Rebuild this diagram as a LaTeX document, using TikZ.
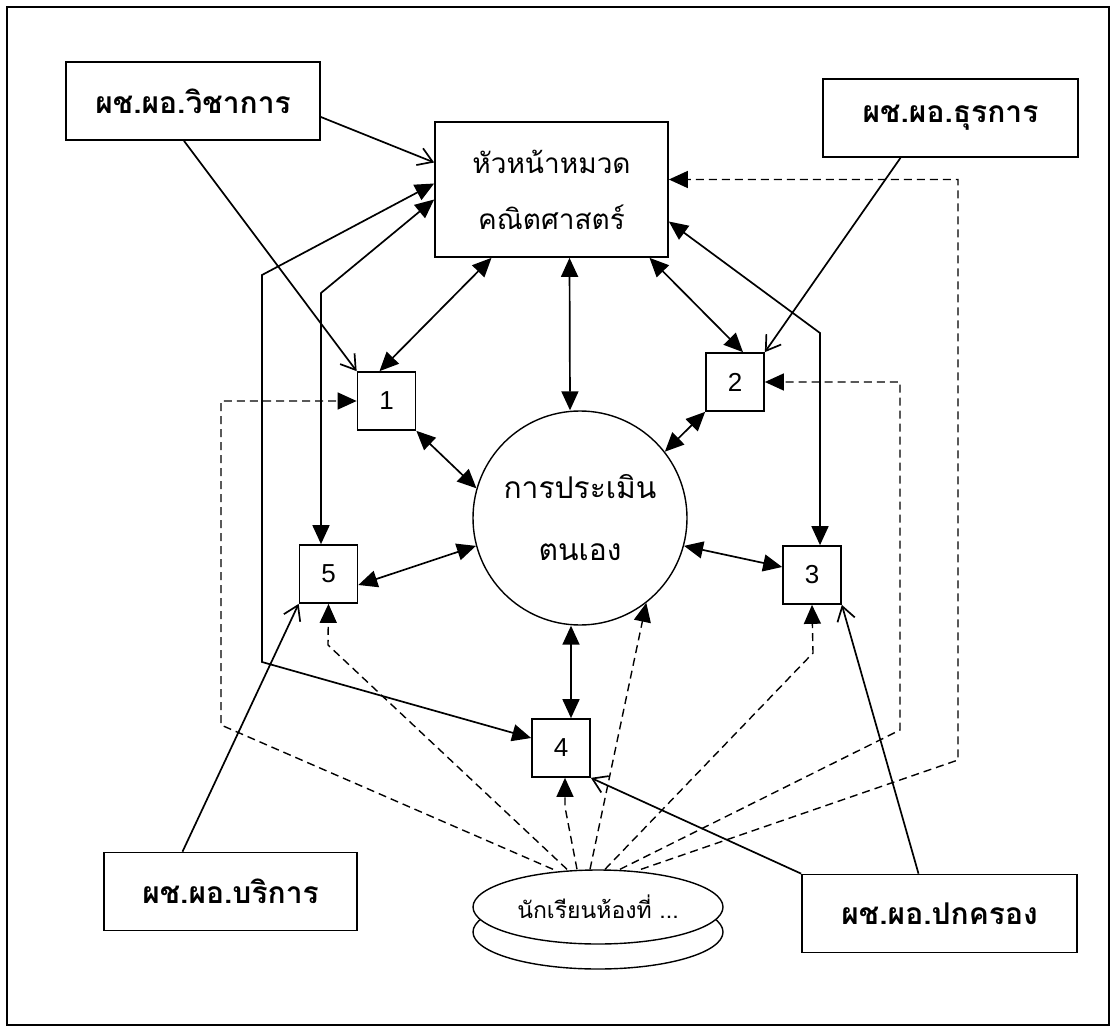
\documentclass[tikz,border=0pt]{standalone}
\usepackage{fontspec}
\setmainfont{Liberation Sans}
\newfontfamily\thaifont[Script=Thai]{Loma}
\usetikzlibrary{arrows.meta,shapes.geometric}

\begin{document}
\begin{tikzpicture}[x=1pt,y=-1pt,line width=1.7pt,
    box/.style={draw,inner sep=0pt,minimum height=78pt,minimum width=#1,font=\thaifont\bfseries\fontsize{30}{34}\selectfont},
    numbox/.style={draw,inner sep=0pt,minimum size=58pt,font=\fontsize{26}{26}\selectfont},
    thai/.style={font=\thaifont\fontsize{28}{56}\selectfont,align=center},
    dbl/.style={{Triangle[length=19pt,width=17pt]}-{Triangle[length=19pt,width=17pt]}},
    fwd/.style={-{Triangle[length=19pt,width=17pt]}},
    barb/.style={-{Straight Barb[length=14pt,width=18pt]}},
    dsh/.style={line width=1.4pt,dash pattern=on 8pt off 5pt}]
  \useasboundingbox (0,0) rectangle (1113,1027);
  \draw[line width=2pt] (7,7) rectangle (1109,1025);

  \node [box=254pt] (vina) at (193,101) {ผช.ผอ.วิชาการ};
  \node [box=255pt] (thura) at (950.5,118) {ผช.ผอ.ธุรการ};
  \node [box=253pt] (borikan) at (230.5,891.5) {ผช.ผอ.บริการ};
  \node [box=275pt] (pokkrong) at (939.5,913.5) {ผช.ผอ.ปกครอง};
  \node [draw,thai,inner sep=0pt,minimum width=233pt,minimum height=135pt] (head) at (551.5,189.5) {หัวหน้าหมวด\\คณิตศาสตร์};
  \node [draw,thai,circle,inner sep=0pt,minimum size=214pt,line width=1.4pt,font=\thaifont\fontsize{30}{56}\selectfont] (eval) at (580,518) {การประเมิน\\[6pt]ตนเอง};
  \node [numbox] (n1) at (386.5,401) {1};
  \node [numbox] (n2) at (735,382) {2};
  \node [numbox] (n3) at (812,575) {3};
  \node [numbox] (n4) at (561,748) {4};
  \node [numbox] (n5) at (328.5,574) {5};
  \node [draw,ellipse,fill=white,inner sep=0pt,minimum width=250pt,minimum height=74pt,line width=1.4pt] (roomb) at (598,932) {};
  \node [draw,ellipse,fill=white,inner sep=0pt,minimum width=250pt,minimum height=74pt,line width=1.4pt,
         font=\thaifont\fontsize{23}{23}\selectfont] (room) at (598,907) {นักเรียนห้องที่ ...};

  \coordinate (k5) at (321,293);
  \coordinate (k4a) at (262,275);
  \coordinate (k4b) at (262,662);
  \coordinate (k3) at (820,333);
  \coordinate (d1) at (221,725);
  \coordinate (d5) at (328,645);
  \coordinate (d4) at (565,807);
  \coordinate (d3) at (813,653);
  \coordinate (d2) at (900,730);
  \coordinate (dh) at (958,760);

  \draw[barb] ([yshift=-16pt]vina.east) -- ([yshift=27pt]head.west);
  \draw[barb] ([xshift=-9pt]vina.south) -- (n1.north west);
  \draw[barb] ([xshift=-50pt]thura.south) -- (n2.north east);
  \draw[barb] ([xshift=-48pt]borikan.north) -- (n5.south west);
  \draw[barb] ([xshift=-21pt]pokkrong.north) -- (n3.south east);
  \draw[barb] (pokkrong.north west) -- (n4.south east);

  \draw[dbl] ([xshift=-60pt]head.south) -- ([xshift=-7pt]n1.north);
  \draw[dbl] ([xshift=18pt]head.south) -- ([xshift=-10pt]eval.north);
  \draw[dbl] ([xshift=98pt]head.south) -- ([xshift=8pt]n2.north);
  \draw[dbl] (n1.south east) -- (eval.164);
  \draw[dbl] (n2.south west) -- (eval.38);
  \draw[dbl] ([yshift=-11pt]n5.east) -- (eval.195);
  \draw[dbl] (eval.-15) -- ([yshift=8pt]n3.west);
  \draw[dbl] ([xshift=-9pt]eval.south) -- ([xshift=10pt]n4.north);
  \draw[dbl] ([yshift=-10pt]head.west) -- (k5) -- (k5 |- n5.north);
  \draw[dbl] ([yshift=6pt]head.west) -- (k4a) -- (k4b) -- ([yshift=10pt]n4.west);
  \draw[dbl] ([yshift=-32pt]head.east) -- (k3) -- (k3 |- n3.north);

  \draw[dsh,fwd] ([xshift=-45pt]room.north) -- (d1) |- (n1.west);
  \draw[dsh,fwd] ([xshift=-31pt]room.north) -- (d5) -- (n5.south);
  \draw[dsh,fwd] ([xshift=-21pt]room.north) -- (d4) -- ([xshift=4pt]n4.south);
  \draw[dsh,fwd] ([xshift=-8pt]room.north) -- (eval.-52);
  \draw[dsh,fwd] ([xshift=7pt]room.north) -- (d3) -- (n3.south);
  \draw[dsh,fwd] ([xshift=22pt]room.north) -- (d2) |- (n2.east);
  \draw[dsh,fwd] ([xshift=43pt]room.north) -- (dh) |- ([yshift=10pt]head.east);
\end{tikzpicture}
\end{document}
